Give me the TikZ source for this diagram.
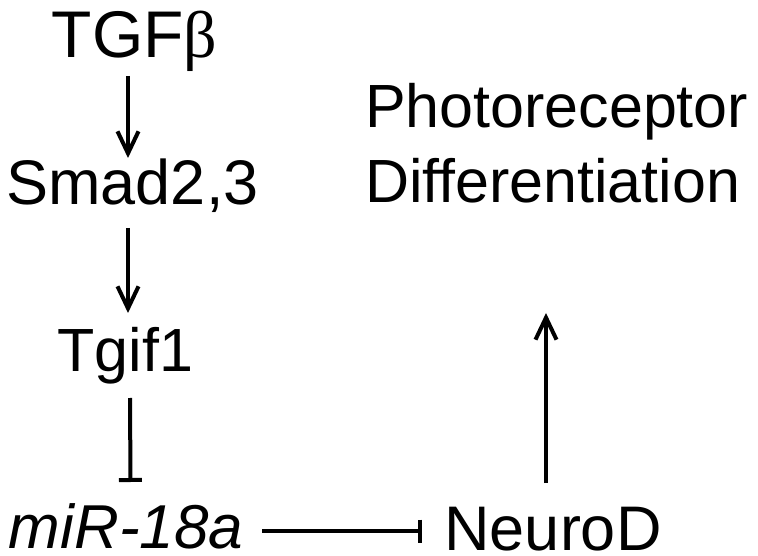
\documentclass[tikz,border=0pt]{standalone}
\usepackage{fontspec}
\setmainfont{Liberation Sans}
\newfontfamily\serifgreek{Liberation Serif}
\usetikzlibrary{arrows.meta}
\tikzset{
  lbl/.style={inner sep=0pt, outer sep=0pt, anchor=base, font=\fontsize{#1}{75}\selectfont},
  lbl/.default=61,
  act/.style={line width=4pt, -{Straight Barb[length=22pt, width=21pt, line width=4pt]}},
  inh/.style={line width=4pt, -{Bar[width=23pt, line width=4pt]}}
}
\begin{document}
\begin{tikzpicture}[x=1pt, y=1pt]
\useasboundingbox (0,0) rectangle (758,555);
\node[lbl=66] (tgf) at (134.5,497) {TGF{\serifgreek β}};
\node[lbl=63] (smad) at (132.5,350) {Smad2,3};
\node[lbl=61] (tgif) at (125.5,183) {Tgif1};
\node[lbl=62] (mir) at (126,7) {\itshape miR-18a};
\node[lbl=63] (neurod) at (553,5) {NeuroD};
\node[lbl=61, anchor=base west, align=left] (photo) at (365,352) {Photoreceptor\\Differentiation};
\draw[act] ([xshift=-6.5pt,yshift=-18pt]tgf.base) -- ([xshift=-4.5pt,yshift=47pt]smad.base);
\draw[act] ([xshift=-4.5pt,yshift=-23pt]smad.base) -- ([xshift=2.5pt,yshift=59pt]tgif.base);
\draw[inh] ([xshift=4.5pt,yshift=-26pt]tgif.base) -- ([xshift=4.5pt,yshift=66pt]mir.base);
\draw[inh] ([xshift=19pt,yshift=17pt]mir.base east) -- ([xshift=-22pt,yshift=19pt]neurod.base west);
\draw[act] ([xshift=-7pt,yshift=67pt]neurod.base) -- (546,242);
\end{tikzpicture}
\end{document}
